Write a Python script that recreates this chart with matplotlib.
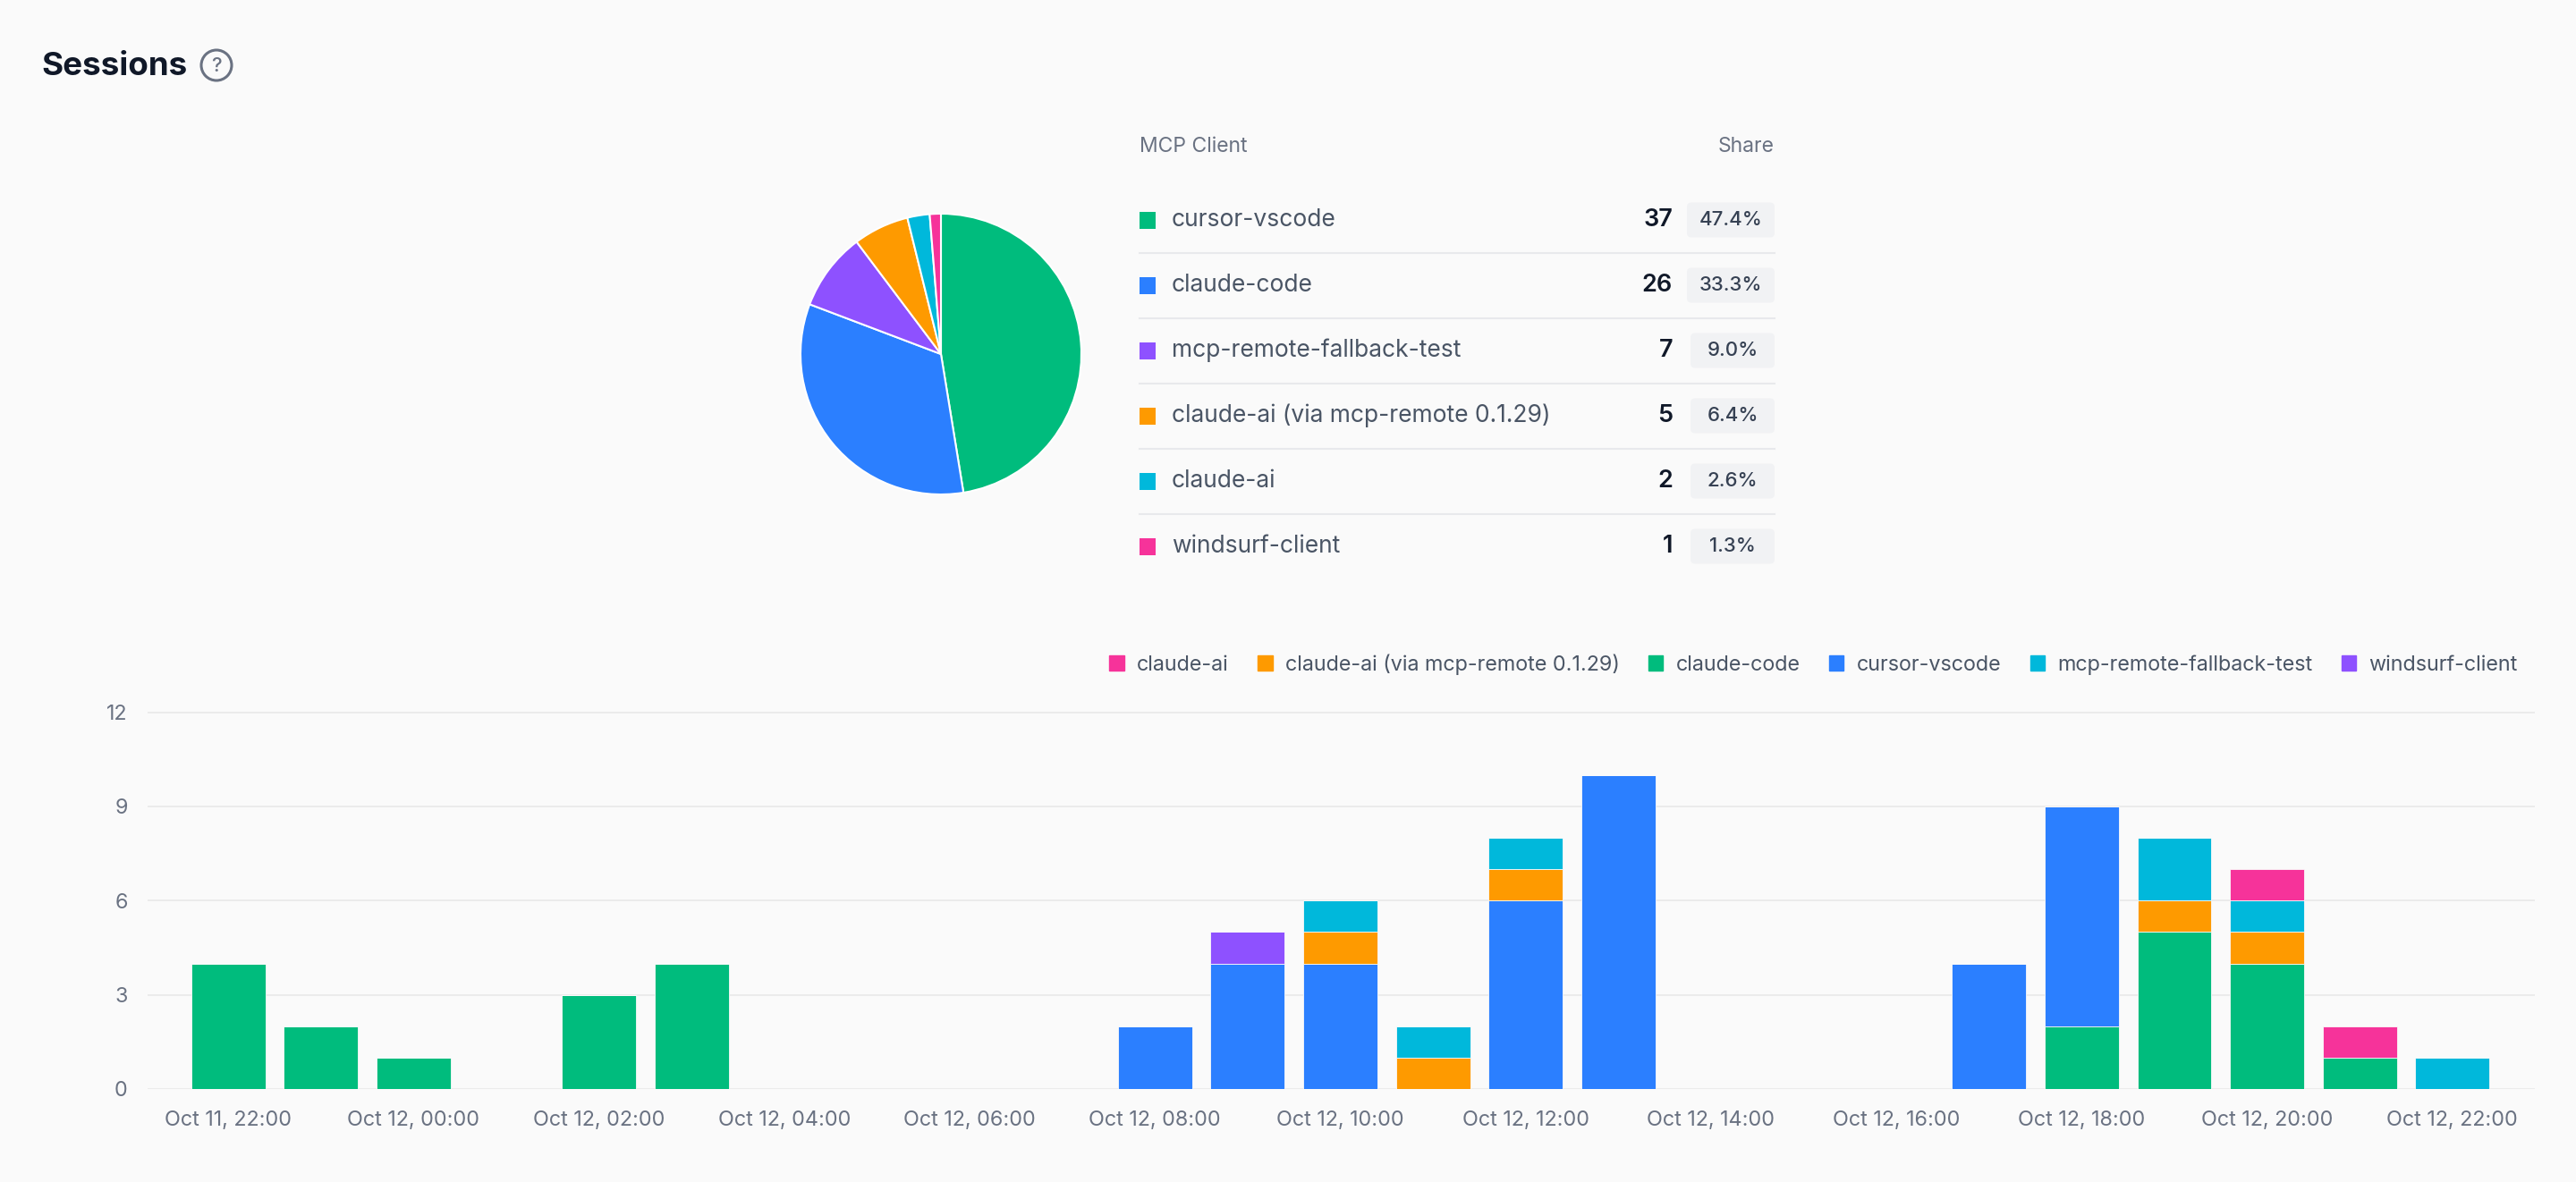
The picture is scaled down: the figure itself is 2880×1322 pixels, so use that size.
import numpy as np
import matplotlib
matplotlib.use('Agg')
import matplotlib.pyplot as plt
from matplotlib.patches import Patch, FancyBboxPatch, Circle, Rectangle

plt.rcParams['font.family'] = ['Inter', 'DejaVu Sans']

W, H = 2880, 1322
BG = '#fafafa'
GREY = '#6a7282'
DARK = '#101828'

# --- pie / table data
clients = ['cursor-vscode', 'claude-code', 'mcp-remote-fallback-test',
           'claude-ai (via mcp-remote 0.1.29)', 'claude-ai', 'windsurf-client']
sessions = [37, 26, 7, 5, 2, 1]
pie_colors = ['#00bc7d', '#2b7fff', '#8e51ff', '#fe9a00', '#00b8db', '#f6339a']

# --- hourly bars (Oct 11 22:00 .. Oct 12 22:00)
hours = ['Oct 11, 22:00', 'Oct 11, 23:00'] + ['Oct 12, %02d:00' % h for h in range(23)]
claude_code   = [4, 2, 1, 0, 3, 4, 0, 0, 0, 0, 0, 0, 0, 0, 0, 0, 0, 0, 0, 0, 2, 5, 4, 1, 0]
cursor_vscode = [0, 0, 0, 0, 0, 0, 0, 0, 0, 0, 2, 4, 4, 0, 6, 10, 0, 0, 0, 4, 7, 0, 0, 0, 0]
claude_ai_via = [0, 0, 0, 0, 0, 0, 0, 0, 0, 0, 0, 0, 1, 1, 1, 0, 0, 0, 0, 0, 0, 1, 1, 0, 0]
fallback_test = [0, 0, 0, 0, 0, 0, 0, 0, 0, 0, 0, 0, 1, 1, 1, 0, 0, 0, 0, 0, 0, 2, 1, 0, 1]
windsurf      = [0, 0, 0, 0, 0, 0, 0, 0, 0, 0, 0, 1, 0, 0, 0, 0, 0, 0, 0, 0, 0, 0, 0, 0, 0]
claude_ai     = [0, 0, 0, 0, 0, 0, 0, 0, 0, 0, 0, 0, 0, 0, 0, 0, 0, 0, 0, 0, 0, 0, 1, 1, 0]

# stacking order bottom -> top
stack = [('claude-code', claude_code, '#00bc7d'),
         ('cursor-vscode', cursor_vscode, '#2b7fff'),
         ('claude-ai (via mcp-remote 0.1.29)', claude_ai_via, '#fe9a00'),
         ('mcp-remote-fallback-test', fallback_test, '#00b8db'),
         ('windsurf-client', windsurf, '#8e51ff'),
         ('claude-ai', claude_ai, '#f6339a')]
legend_order = ['claude-ai', 'claude-ai (via mcp-remote 0.1.29)', 'claude-code',
                'cursor-vscode', 'mcp-remote-fallback-test', 'windsurf-client']

fig = plt.figure(figsize=(W / 100, H / 100), dpi=100, facecolor=BG)

# overlay in pixel coords for the header and the table
ov = fig.add_axes([0, 0, 1, 1], zorder=0)
ov.set_xlim(0, W)
ov.set_ylim(H, 0)
ov.axis('off')

ov.text(46, 75, 'Sessions', fontsize=26.5, fontweight='bold', color=DARK, va='center')
ov.add_patch(Circle((242, 73), 17, fill=False, ec=GREY, lw=2.2))
ov.text(242, 74, '?', fontsize=16, color=GREY, ha='center', va='center', fontweight='medium')

# table
ov.text(1274, 164, 'MCP Client', fontsize=16.5, color=GREY, va='center')
ov.text(1984, 164, 'Share', fontsize=16.5, color=GREY, va='center', ha='right')
total = sum(sessions)
for i, (name, n, c) in enumerate(zip(clients, sessions, pie_colors)):
    y = 246 + 73 * i
    ov.add_patch(Rectangle((1274, y - 9.5), 18, 19, color=c, lw=0))
    ov.text(1310, y, name, fontsize=19, color='#4a5565', va='center')
    ov.text(1870, y, str(n), fontsize=19.5, color=DARK, va='center', ha='right',
            fontweight='semibold')
    pct = '%.1f%%' % (100 * n / total)
    bw = 98 if len(pct) > 4 else 94
    ov.add_patch(FancyBboxPatch((1984 - bw, y - 19.5), bw, 39,
                                boxstyle='round,pad=0,rounding_size=5',
                                fc='#f1f2f4', ec='none'))
    ov.text(1984 - bw / 2, y, pct, fontsize=16, color='#364153', va='center',
            ha='center', fontweight='medium')
    if i < len(clients) - 1:
        ov.plot([1274, 1984], [y + 37, y + 37], color='#e8e9ec', lw=1.5)

# pie
axp = fig.add_axes([(1052 - 170) / W, 1 - (396 + 170) / H, 340 / W, 340 / H], zorder=2)
axp.pie(sessions, colors=pie_colors, startangle=90, counterclock=False,
        wedgeprops=dict(edgecolor='white', linewidth=1.5))
axp.set_xlim(-170 / 157, 170 / 157)
axp.set_ylim(-170 / 157, 170 / 157)
axp.set_aspect('equal')

# stacked bars
ax = fig.add_axes([165 / W, 1 - 1218 / H, (2834 - 165) / W, (1218 - 795.5) / H], zorder=2)
ax.set_facecolor('none')
x = np.arange(len(hours))
bottom = np.zeros(len(hours))
for name, vals, c in stack:
    vals = np.array(vals)
    ax.bar(x, vals, 0.8, bottom=bottom, color=c, edgecolor=BG,
           linewidth=0.6, label=name)
    bottom += vals

ax.set_xlim(-0.87, 24.89)
ax.set_ylim(0, 12.03)
ax.set_yticks([0, 3, 6, 9, 12])
ax.set_xticks(x[::2])
ax.set_xticklabels(hours[::2])
ax.tick_params(length=0, labelsize=16.8, labelcolor=GREY)
ax.tick_params(axis='x', pad=17)
ax.tick_params(axis='y', pad=16)
ax.yaxis.grid(True, color='#ebebeb', lw=1.4)
ax.set_axisbelow(True)
for s in ax.spines.values():
    s.set_visible(False)

colors = {name: c for name, _, c in stack}
handles = [Patch(color=colors[n]) for n in legend_order]
fig.legend(handles, legend_order, loc='center right',
           bbox_to_anchor=(2824 / W, 1 - 743 / H), ncol=6, frameon=False,
           fontsize=16.8, handlelength=0.7, handleheight=0.7, handletextpad=0.6,
           columnspacing=1.4, labelcolor='#4a5565', borderaxespad=0)

fig.savefig('out.png', dpi=100, facecolor=BG)
